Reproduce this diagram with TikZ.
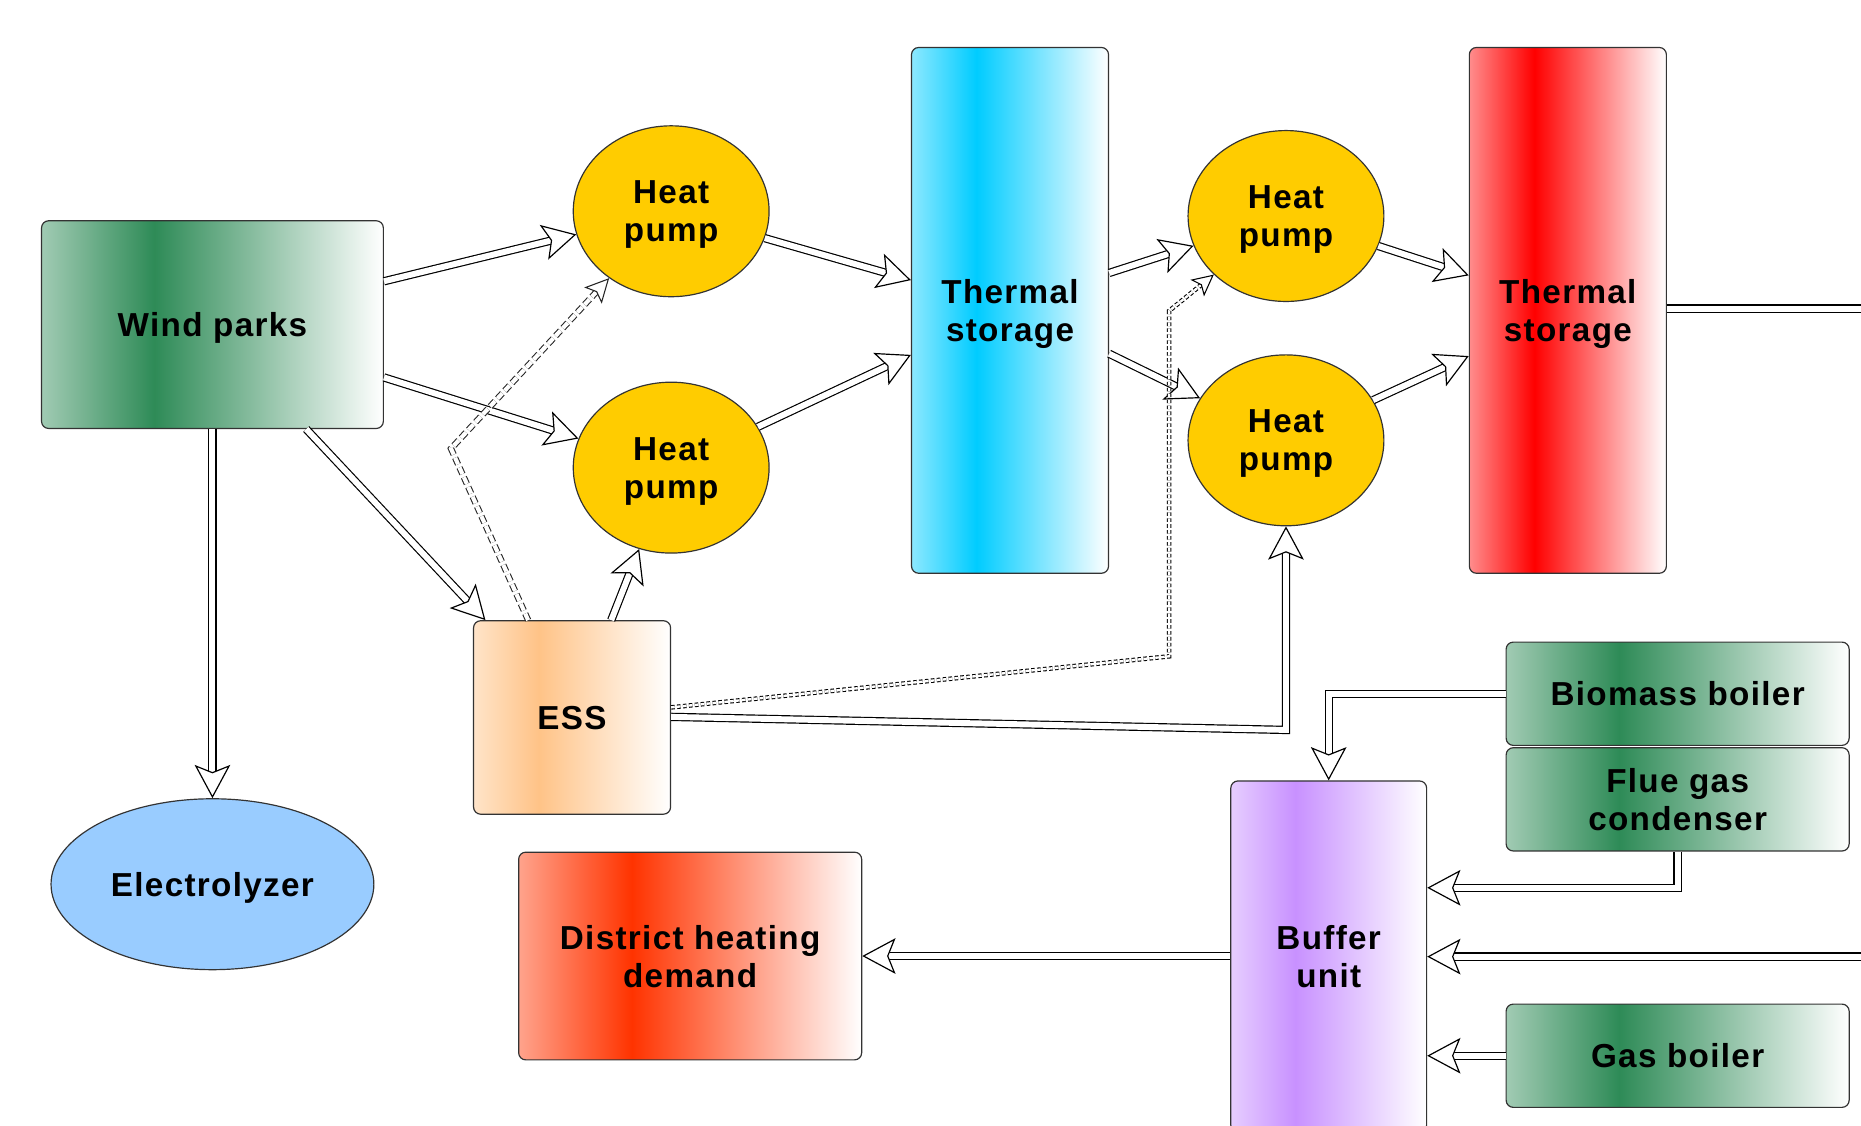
\documentclass[tikz,border=0pt]{standalone}
\usepackage{fontspec}
\setmainfont{Liberation Sans}[LetterSpace=4]
\usetikzlibrary{arrows.meta,shapes.geometric,calc}
\definecolor{cgreen}{RGB}{46,139,87}
\definecolor{cblue}{RGB}{0,204,255}
\definecolor{cred}{RGB}{255,0,0}
\definecolor{corange}{RGB}{255,195,135}
\definecolor{cpurple}{RGB}{200,145,255}
\definecolor{cdh}{RGB}{255,51,0}
\definecolor{cyellow}{RGB}{255,204,0}
\definecolor{celec}{RGB}{153,204,255}
\newcommand\mkshade[2]{\pgfdeclarehorizontalshading{#1}{100bp}{color(0bp)=(#2!45); color(25bp)=(#2!45); color(41.5bp)=(#2); color(75bp)=(white); color(100bp)=(white)}}
\mkshade{shgreen}{cgreen}
\mkshade{shblue}{cblue}
\mkshade{shred}{cred}
\mkshade{shorange}{corange}
\mkshade{shpurple}{cpurple}
\mkshade{shdh}{cdh}
\tikzset{
  box/.style={draw=black!80, line width=1pt, rounded corners=6pt, shade, align=center, inner sep=0pt, text depth=0pt},
  hpump/.style={ellipse, draw=black!80, line width=1pt, fill=cyellow, minimum width=165pt, minimum height=144pt, inner sep=0pt, align=center, text depth=0pt},
  flow/.style={draw=black, line width=1pt, double=white, double distance=5pt, -{Stealth[fill=white, length=28pt, width=30pt, inset=6pt]}},
  flowplain/.style={draw=black, line width=1pt, double=white, double distance=5pt},
  ctrlA/.style={draw=black!85, line width=0.9pt, double=white, double distance=3.5pt, dash pattern=on 6pt off 3pt, -{Stealth[fill=white, length=20pt, width=20pt, inset=4pt]}},
  ctrlB/.style={draw=black, line width=0.9pt, double=white, double distance=2pt, dash pattern=on 3pt off 2pt, -{Stealth[fill=white, length=18pt, width=18pt, inset=4pt]}}
}
\begin{document}
\begin{tikzpicture}[x=1pt, y=-1pt, font=\fontsize{28}{32}\selectfont\bfseries]
\useasboundingbox (0,0) rectangle (1568,948);
\clip (0,0) rectangle (1568,948);
\fill[white] (0,0) rectangle (1568,948);
% nodes
\node[box, shading=shgreen, minimum width=288pt, minimum height=175pt] (wp) at (179,273.5) {Wind parks};
\node[ellipse, draw=black!80, line width=1pt, fill=celec, minimum width=272pt, minimum height=144pt, inner sep=0pt, text depth=0pt] (el) at (179,745) {Electrolyzer};
\node[hpump] (hp1) at (565.5,178) {Heat\\pump};
\node[hpump] (hp2) at (565.5,394) {Heat\\pump};
\node[hpump] (hp3) at (1083.5,182) {Heat\\pump};
\node[hpump] (hp4) at (1083.5,371) {Heat\\pump};
\node[box, shading=shblue, minimum width=166pt, minimum height=443pt] (ts1) at (851,261.5) {Thermal\\storage};
\node[box, shading=shred, minimum width=166pt, minimum height=443pt] (ts2) at (1321,261.5) {Thermal\\storage};
\node[box, shading=shorange, minimum width=166pt, minimum height=163pt] (ess) at (482,604.5) {ESS};
\node[box, shading=shgreen, minimum width=289pt, minimum height=87pt] (bio) at (1413.5,584.5) {Biomass boiler};
\node[box, shading=shgreen, minimum width=289pt, minimum height=87pt] (flue) at (1413.5,673.5) {Flue gas\\condenser};
\node[box, shading=shgreen, minimum width=289pt, minimum height=87pt] (gas) at (1413.5,889.5) {Gas boiler};
\node[box, shading=shpurple, minimum width=165pt, minimum height=296pt] (buf) at (1119.5,806) {Buffer\\unit};
\node[box, shading=shdh, minimum width=289pt, minimum height=175pt] (dhd) at (581.5,805.5) {District heating\\demand};
% helper coordinates
\coordinate (c6) at (380,378);
\coordinate (c13a) at (985,553);
\coordinate (c13b) at (985,262);
\coordinate (outR1) at (1600,260);
\coordinate (inR2) at (1600,806);
% connectors
\draw[flow] (wp.east |- 0,237) -- (hp1);
\draw[flow] (wp.east |- 0,318) -- (hp2);
\draw[flow] (wp.south) -- (el.north);
\draw[flow] (wp.south -| 258,0) -- (ess.north -| 409,0);
\draw[flow] (ess.north -| 515,0) -- (hp2);
\draw[ctrlA] (ess.north -| 445,0) -- (c6) -- (hp1);
\draw[flow] (hp1) -- (ts1.west |- 0,236);
\draw[flow] (hp2) -- (ts1.west |- 0,299);
\draw[flow] (ts1.east |- 0,230) -- (hp3);
\draw[flow] (ts1.east |- 0,298) -- (hp4);
\draw[flow] (hp3) -- (ts2.west |- 0,232);
\draw[flow] (hp4) -- (ts2.west |- 0,300);
\draw[ctrlB] (ess.east |- 0,596) -- (c13a) -- (c13b) -- (hp3);
\draw[flow] (ess.east |- 0,604) -- (hp4.south |- 0,615) -- (hp4.south);
\draw[flowplain] (ts2.east |- 0,260) -- (outR1);
\draw[flow] (bio.west) -| (buf.north);
\draw[flow] (flue.south) |- (buf.east |- 0,748);
\draw[flow] (inR2) -- (buf.east |- 0,806);
\draw[flow] (gas.west) -- (buf.east |- gas.west);
\draw[flow] (buf.west |- dhd.east) -- (dhd.east);
\end{tikzpicture}
\end{document}
